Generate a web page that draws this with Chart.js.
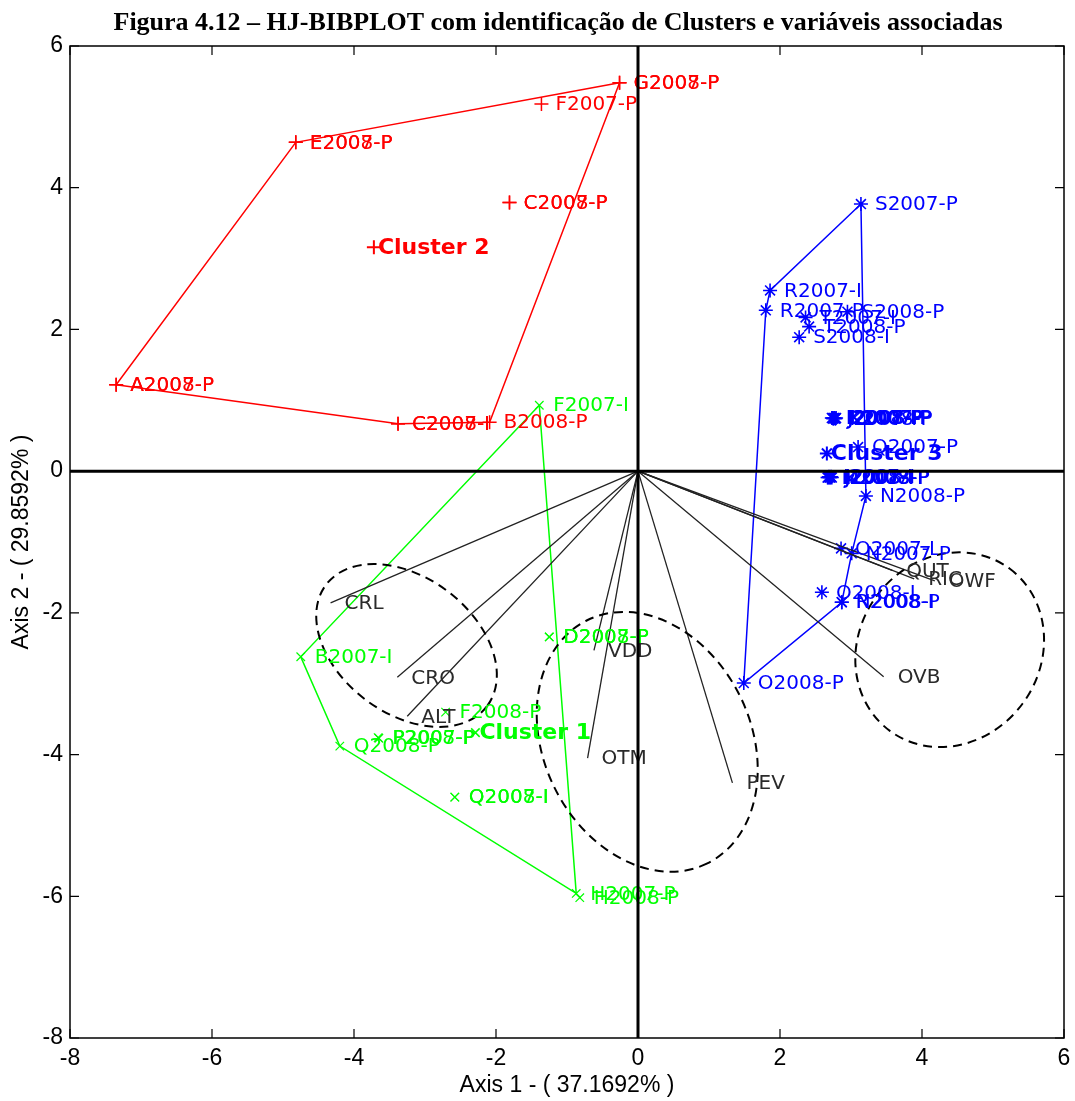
<!DOCTYPE html>
<html>
<head>
<meta charset="utf-8">
<title>HJ-BIBPLOT</title>
<script src="https://cdn.jsdelivr.net/npm/chart.js@4/dist/chart.umd.min.js"></script>
<style>
  html, body { margin: 0; padding: 0; background: #ffffff; }
  #wrap { width: 1075px; height: 1101px; }
</style>
</head>
<body>
<div id="wrap"><canvas id="chart" width="1075" height="1101"></canvas></div>
<script>
// ---- text ----
const figureTitle = 'Figura 4.12 – HJ-BIBPLOT com identificação de Clusters e variáveis associadas';
const xAxisTitle = 'Axis 1 - ( 37.1692% )';
const yAxisTitle = 'Axis 2 - ( 29.8592% )';
const axisTicks = [-8, -6, -4, -2, 0, 2, 4, 6];

// ---- Cluster 1 (green, x markers) ----
const c1Labels = ['F2007-I', 'D2008-P', 'D2007-P', 'B2007-I', 'F2008-P', 'P2008-P', 'P2007-P',
                  'Q2008-P', 'Q2008-I', 'Q2007-I', 'H2007-P', 'H2008-P'];
const c1X = [-1.39, -1.25, -1.25, -4.75, -2.71, -3.66, -3.65, -4.20, -2.58, -2.58, -0.87, -0.82];
const c1Y = [0.93, -2.34, -2.34, -2.62, -3.40, -3.76, -3.77, -3.88, -4.60, -4.60, -5.96, -6.02];
const c1Hull = [0, 3, 7, 10, 0];
const c1Centre = [-2.29, -3.69];

// ---- Cluster 2 (red, + markers) ----
const c2Labels = ['G2008-P', 'G2007-P', 'F2007-P', 'E2008-P', 'E2007-P', 'C2008-P', 'C2007-P',
                  'A2008-P', 'A2007-P', 'C2008-I', 'C2007-I', 'B2008-P'];
const c2X = [-0.26, -0.26, -1.36, -4.82, -4.82, -1.81, -1.81, -7.35, -7.35, -3.38, -3.38, -2.09];
const c2Y = [5.48, 5.48, 5.18, 4.64, 4.64, 3.79, 3.79, 1.22, 1.22, 0.67, 0.67, 0.69];
const c2Hull = [7, 3, 0, 11, 9, 7];
const c2Centre = [-3.72, 3.16];

// ---- Cluster 3 (blue, * markers) ----
const c3Labels = ['S2007-P', 'R2007-I', 'R2007-P', 'S2008-P', 'T2007-I', 'T2008-P', 'S2008-I',
                  'I2007-P', 'I2008-P', 'J2007-P', 'J2008-P', 'K2007-P', 'K2008-P', 'L2007-P',
                  'Q2007-P',
                  'M2007-P', 'M2008-P', 'I2007-I', 'I2008-I', 'J2007-I', 'J2008-I', 'K2008-I',
                  'N2008-P', 'O2007-I', 'N2007-P', 'O2008-I', 'R2008-P', 'N2008-I', 'O2008-P'];
const c3X = [3.14, 1.86, 1.80, 2.95, 2.36, 2.41, 2.27,
             2.73, 2.74, 2.75, 2.76, 2.77, 2.78, 2.79,
             3.10,
             2.67, 2.68, 2.69, 2.70, 2.71, 2.72, 2.73,
             3.21, 2.86, 3.01, 2.59, 2.87, 2.87, 1.49];
const c3Y = [3.77, 2.55, 2.27, 2.25, 2.17, 2.04, 1.89,
             0.75, 0.75, 0.74, 0.75, 0.75, 0.74, 0.75,
             0.34,
             -0.09, -0.09, -0.08, -0.09, -0.09, -0.08, -0.09,
             -0.35, -1.09, -1.16, -1.71, -1.85, -1.85, -2.99];
const c3Hull = [0, 22, 24, 26, 28, 2, 1, 0];
const c3Centre = [2.66, 0.25];

// ---- variables (vectors from the origin) ----
const varNames = ['CRL', 'CRO', 'ALT', 'VDD', 'OTM', 'PEV', 'OVB', 'QUT', 'RIC', 'OWF'];
const varX = [-4.33, -3.39, -3.25, -0.62, -0.71, 1.33, 3.46, 3.58, 3.89, 4.18];
const varY = [-1.86, -2.91, -3.46, -2.53, -4.05, -4.40, -2.90, -1.40, -1.52, -1.55];

// ---- dashed ellipses grouping variables: centre, semi-axes (data units), rotation (deg) ----
const ellCX = [-3.26, 0.13, 4.39];
const ellCY = [-2.46, -3.82, -2.52];
const ellRX = [1.42, 1.91, 1.42];
const ellRY = [0.96, 1.46, 1.28];
const ellRot = [37, 63.7, -53.6];

// ---- styling ----
const RED = '#ff0000', GREEN = '#00ff00', BLUE = '#0000ff', INK = '#222222';
const labelFont = '20px "DejaVu Sans", Verdana, sans-serif';
const clusterFont = 'bold 22px "DejaVu Sans", Verdana, sans-serif';
const axisFamily = '"Liberation Sans Narrow", "Liberation Sans", Arial, sans-serif';

const pts = (xs, ys) => xs.map((v, i) => ({ x: v, y: ys[i] }));
const hull = (xs, ys, idx) => idx.map(i => ({ x: xs[i], y: ys[i] }));

function hullSet(xs, ys, idx, color) {
  return { data: hull(xs, ys, idx), showLine: true, borderColor: color, borderWidth: 1.5,
           pointRadius: 0, tension: 0, fill: false };
}
function markerSet(xs, ys, labels, color, style, radius, width) {
  return { data: pts(xs, ys), showLine: false, pointStyle: style, pointRadius: radius,
           pointBorderColor: color, pointBackgroundColor: color, pointBorderWidth: width,
           borderColor: color, pointLabels: labels, labelColor: color, labelFont: labelFont, labelDx: 14 };
}
function centreSet(c, name, color, style, radius, width) {
  return { data: [{ x: c[0], y: c[1] }], showLine: false, pointStyle: style, pointRadius: radius,
           pointBorderColor: color, pointBorderWidth: width, borderColor: color,
           pointLabels: [name], labelColor: color, labelFont: clusterFont, labelDx: 4 };
}

const datasets = [];
// variable vectors
varNames.forEach((n, i) => {
  datasets.push({ data: [{ x: 0, y: 0 }, { x: varX[i], y: varY[i] }], showLine: true,
                  borderColor: INK, borderWidth: 1.3, pointRadius: 0, tension: 0 });
});
datasets.push({ data: pts(varX, varY), showLine: false, pointRadius: 0,
                pointLabels: varNames, labelColor: '#2a2a2a', labelFont: labelFont, labelDx: 14 });
// cluster hulls
datasets.push(hullSet(c1X, c1Y, c1Hull, GREEN));
datasets.push(hullSet(c2X, c2Y, c2Hull, RED));
datasets.push(hullSet(c3X, c3Y, c3Hull, BLUE));
// observations
datasets.push(markerSet(c1X, c1Y, c1Labels, GREEN, 'crossRot', 6, 1.2));
datasets.push(markerSet(c2X, c2Y, c2Labels, RED, 'cross', 7, 1.5));
datasets.push(markerSet(c3X, c3Y, c3Labels, BLUE, 'star', 7, 1.6));
// cluster centres
datasets.push(centreSet(c1Centre, 'Cluster 1', GREEN, 'crossRot', 6, 1.5));
datasets.push(centreSet(c2Centre, 'Cluster 2', RED, 'cross', 7, 2));
datasets.push(centreSet(c3Centre, 'Cluster 3', BLUE, 'star', 7, 2));

// overlay: ellipses, origin axes, point labels, frame with inward ticks, heading
const overlay = {
  id: 'overlay',
  afterDatasetsDraw(chart) {
    const { ctx, chartArea: a, scales: { x, y } } = chart;
    const ux = x.getPixelForValue(1) - x.getPixelForValue(0);
    const uy = y.getPixelForValue(0) - y.getPixelForValue(1);
    ctx.save();
    ctx.beginPath();
    ctx.rect(a.left, a.top, a.right - a.left, a.bottom - a.top);
    ctx.clip();

    // dashed ellipses
    ctx.strokeStyle = '#000';
    ctx.lineWidth = 2;
    ctx.setLineDash([9, 6]);
    ellCX.forEach((cx, i) => {
      ctx.beginPath();
      ctx.ellipse(x.getPixelForValue(cx), y.getPixelForValue(ellCY[i]),
                  ellRX[i] * ux, ellRY[i] * uy, ellRot[i] * Math.PI / 180, 0, Math.PI * 2);
      ctx.stroke();
    });
    ctx.setLineDash([]);

    // point labels
    chart.data.datasets.forEach((ds, di) => {
      if (!ds.pointLabels) return;
      const meta = chart.getDatasetMeta(di);
      ctx.font = ds.labelFont;
      ctx.fillStyle = ds.labelColor;
      ctx.textAlign = 'left';
      ctx.textBaseline = 'middle';
      meta.data.forEach((el, k) => {
        ctx.fillText(ds.pointLabels[k], el.x + ds.labelDx, el.y + 1);
      });
    });

    // axes through the origin
    const x0 = x.getPixelForValue(0), y0 = y.getPixelForValue(0);
    ctx.strokeStyle = '#000';
    ctx.lineWidth = 3;
    ctx.beginPath();
    ctx.moveTo(x0, a.top); ctx.lineTo(x0, a.bottom);
    ctx.moveTo(a.left, y0); ctx.lineTo(a.right, y0);
    ctx.stroke();
    ctx.restore();

    // frame and inward tick marks
    ctx.save();
    ctx.strokeStyle = '#000';
    ctx.lineWidth = 1.5;
    ctx.strokeRect(a.left, a.top, a.right - a.left, a.bottom - a.top);
    const tl = 9;
    ctx.lineWidth = 1.2;
    ctx.beginPath();
    axisTicks.forEach(v => {
      const px = x.getPixelForValue(v);
      ctx.moveTo(px, a.bottom); ctx.lineTo(px, a.bottom - tl);
      ctx.moveTo(px, a.top); ctx.lineTo(px, a.top + tl);
      const py = y.getPixelForValue(v);
      ctx.moveTo(a.left, py); ctx.lineTo(a.left + tl, py);
      ctx.moveTo(a.right, py); ctx.lineTo(a.right - tl, py);
    });
    ctx.stroke();

    // heading
    ctx.font = 'bold 26px "Liberation Serif", "Times New Roman", serif';
    ctx.fillStyle = '#000';
    ctx.textAlign = 'center';
    ctx.textBaseline = 'alphabetic';
    ctx.fillText(figureTitle, 558, 30);
    ctx.restore();
  }
};

const tickFont = { family: axisFamily, size: 23 };
const titleFont = { family: axisFamily, size: 23 };

new Chart(document.getElementById('chart'), {
  type: 'scatter',
  data: { datasets },
  plugins: [overlay],
  options: {
    responsive: false,
    animation: false,
    events: [],
    devicePixelRatio: 1,
    layout: { padding: { top: 46, right: 11, bottom: 0, left: 0 } },
    plugins: { legend: { display: false }, tooltip: { enabled: false }, title: { display: false } },
    scales: {
      x: {
        type: 'linear', min: -8, max: 6,
        afterBuildTicks: s => { s.ticks = axisTicks.map(v => ({ value: v })); },
        afterFit: s => { s.height = 63; s.paddingLeft = 0; s.paddingRight = 0; },
        grid: { display: false, drawTicks: false },
        border: { display: false },
        ticks: { font: tickFont, color: '#000', padding: 7, maxRotation: 0, autoSkip: false,
                 callback: v => String(v) },
        title: { display: true, text: xAxisTitle, font: titleFont, color: '#000',
                 padding: { top: 0, bottom: 2 } }
      },
      y: {
        type: 'linear', min: -8, max: 6,
        afterBuildTicks: s => { s.ticks = axisTicks.map(v => ({ value: v })); },
        afterFit: s => { s.width = 70; s.paddingTop = 0; s.paddingBottom = 0; },
        grid: { display: false, drawTicks: false },
        border: { display: false },
        ticks: { font: tickFont, color: '#000', padding: 7, autoSkip: false,
                 callback: v => String(v) },
        title: { display: true, text: yAxisTitle, font: titleFont, color: '#000',
                 padding: { top: 8, bottom: 0 } }
      }
    }
  }
});
</script>
</body>
</html>
